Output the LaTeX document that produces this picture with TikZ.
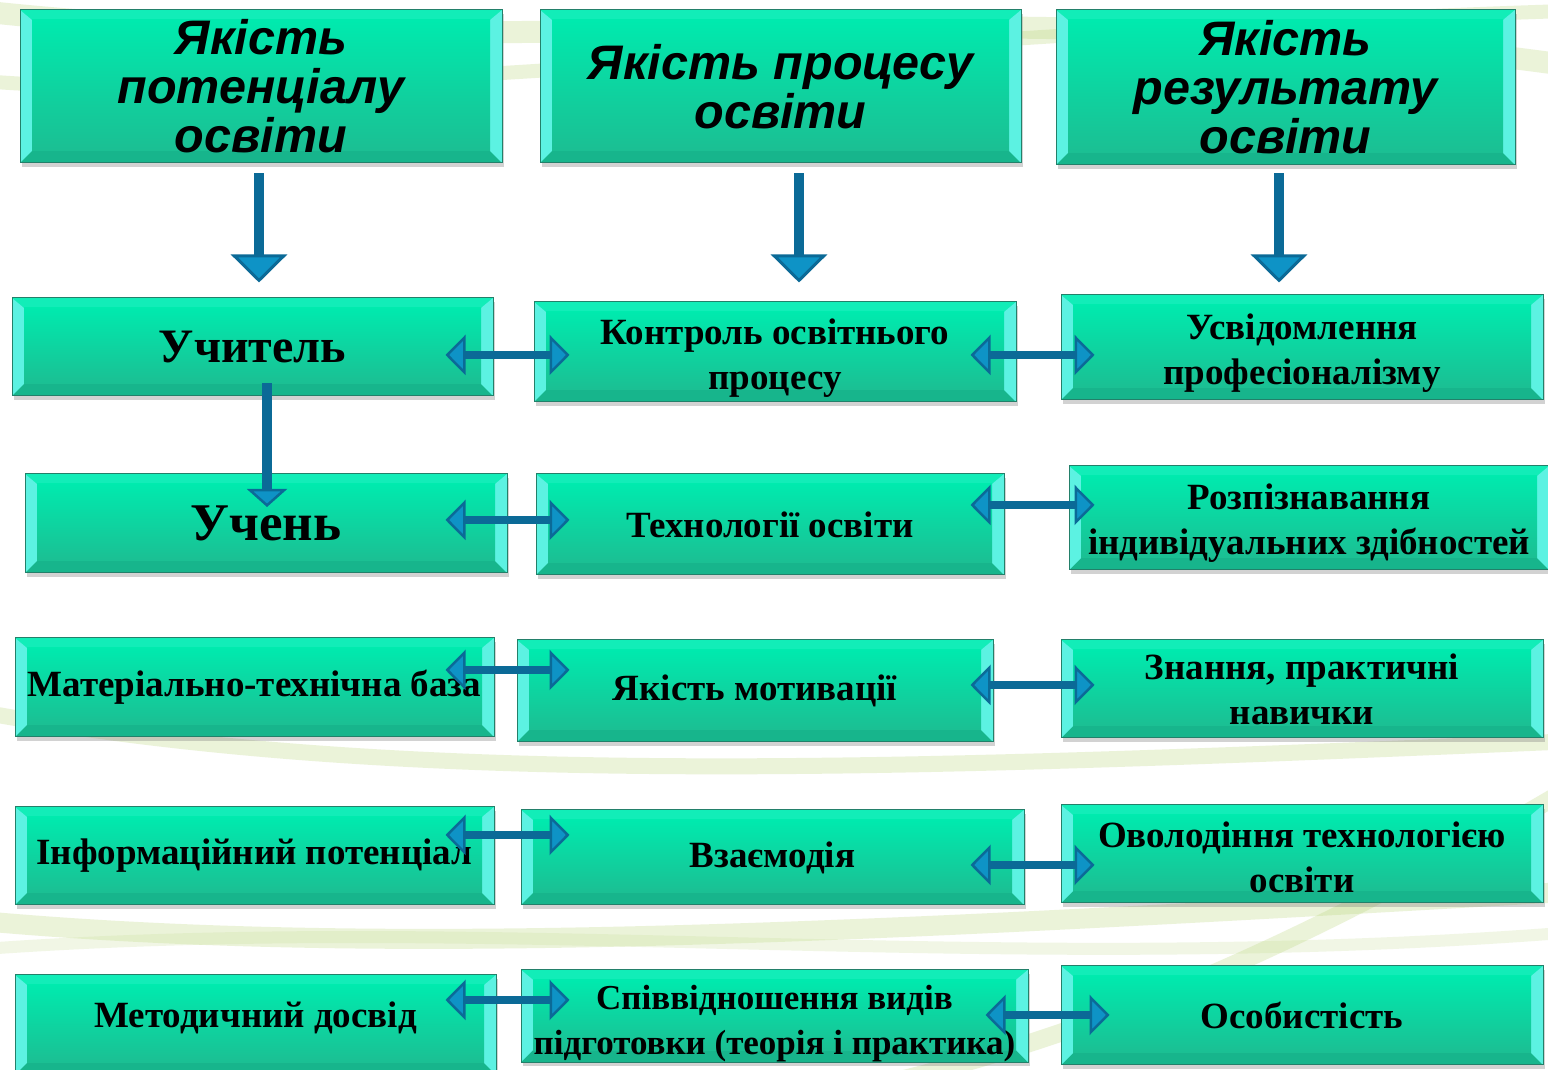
\documentclass[tikz,border=0pt]{standalone}
\usepackage{fontspec}
\setmainfont{Liberation Serif}
\newfontfamily\headfont{Liberation Sans}
\usetikzlibrary{arrows.meta,shadows}
\definecolor{boxtop}{HTML}{00EAAE}
\definecolor{boxbot}{HTML}{1BBF93}
\definecolor{boxedge}{HTML}{23806A}
\definecolor{bevtop}{HTML}{12EDB8}
\definecolor{bevbot}{HTML}{17B58C}
\definecolor{bevside}{HTML}{5CF2E2}
\definecolor{arrdark}{HTML}{0B6A97}
\definecolor{arrlight}{HTML}{0E93C6}
\definecolor{swoosh}{HTML}{B8D67A}
\def\pb{path picture bounding box}
\newcommand\topgap[1]{\rule{0pt}{#1}}
\begin{document}
\begin{tikzpicture}[x=1pt,y=1pt,line join=miter,
	wh/.style 2 args={minimum width=#1,minimum height=#2},
	box/.style={rectangle,draw=boxedge,line width=1pt,top color=boxtop,bottom color=boxbot,
		align=center,inner sep=0pt,
		drop shadow={shadow xshift=2pt,shadow yshift=-4pt,opacity=0.35},
		path picture={
			\fill[bevtop] (\pb.north west) -- (\pb.north east) -- ([shift={(-12,-10)}]\pb.north east) -- ([shift={(12,-10)}]\pb.north west) -- cycle;
			\fill[bevbot] (\pb.south west) -- (\pb.south east) -- ([shift={(-12,12)}]\pb.south east) -- ([shift={(12,12)}]\pb.south west) -- cycle;
			\fill[bevside] (\pb.north west) -- ([shift={(12,-10)}]\pb.north west) -- ([shift={(12,12)}]\pb.south west) -- (\pb.south west) -- cycle;
			\fill[bevside] (\pb.north east) -- ([shift={(-12,-10)}]\pb.north east) -- ([shift={(-12,12)}]\pb.south east) -- (\pb.south east) -- cycle;
			\fill[top color=boxtop,bottom color=boxbot] ([shift={(12,-10)}]\pb.north west) rectangle ([shift={(-12,12)}]\pb.south east);
		}},
	topbox/.style={box,font=\headfont\bfseries\itshape\fontsize{48.5}{49}\selectfont},
	midbox/.style={box,font=\bfseries\fontsize{#1}{45}\selectfont},
	midbox/.default=37,
	downarr/.style={line width=10pt,draw=arrdark,-{Triangle[width=56pt,length=28pt,line width=3pt,fill=arrlight]}},
	dblarr/.style={line width=8pt,draw=arrdark,
		{Triangle[width=40pt,length=20pt,line width=2.5pt,fill=arrlight]}-{Triangle[width=40pt,length=20pt,line width=2.5pt,fill=arrlight]}}
	]
	\useasboundingbox (0,0) rectangle (1548,1070);
	\clip (0,0) rectangle (1548,1070);
	\fill[white] (0,0) rectangle (1548,1070);
	% background swooshes
	\begin{scope}[line cap=round,opacity=0.28]
		\draw[swoosh,line width=22] (-30,1060) .. controls (500,1000) and (1000,1090) .. (1600,1000);
		\draw[swoosh,line width=14] (-30,990) .. controls (300,960) and (900,1040) .. (1600,1060);
		\draw[swoosh,line width=16] (-30,360) .. controls (400,280) and (900,300) .. (1600,330);
		\draw[swoosh,line width=20] (-30,150) .. controls (400,110) and (900,140) .. (1600,180);
		\draw[swoosh!70,line width=12] (-30,120) .. controls (500,160) and (1000,90) .. (1600,140);
		\draw[swoosh,line width=18] (900,-10) .. controls (1100,40) and (1300,120) .. (1600,300);
	\end{scope}
	% top row
	\node[topbox,wh={482}{153}] (A1) at (261,983.5) {Якість\\потенціалу\\освіти};
	\node[topbox,wh={481}{153}] (A2) at (780.5,983.5) {Якість процесу\\освіти};
	\node[topbox,wh={459}{155}] (A3) at (1285.5,982.5) {Якість\\результату\\освіти};
	% rows
	\node[midbox=48,wh={481}{98}] (B1) at (252.5,723) {Учитель};
	\node[midbox,wh={482}{100}] (B2) at (775,718) {\topgap{37.5pt}Контроль освітнього\\процесу};
	\node[midbox,wh={482}{105}] (B3) at (1302,722.5) {\topgap{37.5pt}Усвідомлення\\професіоналізму};
	\node[midbox=53,wh={482}{99}] (C1) at (266,546.5) {Учень};
	\node[midbox,wh={468}{101}] (C2) at (770,545.5) {Технології освіти};
	\node[midbox,wh={480}{104}] (C3) at (1309,552) {\topgap{35.5pt}Розпізнавання\\індивідуальних здібностей};
	\node[midbox,wh={479}{99}] (D1) at (254.5,382.5) {Матеріально-технічна база};
	\node[midbox,wh={476}{102}] (D2) at (755,379) {Якість мотивації};
	\node[midbox,wh={482}{98}] (D3) at (1302,381) {Знання, практичні\\навички};
	\node[midbox,wh={479}{98}] (E1) at (254.5,214) {Інформаційний потенціал};
	\node[midbox,wh={503}{95}] (E2) at (772.5,212.5) {Взаємодія};
	\node[midbox,wh={482}{98}] (E3) at (1302,216) {\topgap{31.5pt}Оволодіння технологією\\освіти};
	\node[midbox,wh={481}{100}] (F1) at (255.5,45) {\raisebox{20pt}{Методичний досвід}};
	\node[midbox=35,wh={507}{92}] (F2) at (774.5,54) {\topgap{40pt}Співвідношення видів\\підготовки (теорія і практика)};
	\node[midbox,wh={482}{99}] (F3) at (1302,54.5) {Особистість};
	% arrows
	\draw[downarr] ([shift={(-2,-10)}]A1.south) -- ([shift={(6.5,15)}]B1.north);
	\draw[downarr] ([shift={(18.5,-10)}]A2.south) -- ([shift={(24,19)}]B2.north);
	\draw[downarr] ([shift={(-6.5,-8)}]A3.south) -- ([shift={(-23,12)}]B3.north);
	\draw[downarr,-{Triangle[width=40pt,length=18pt,line width=2.5pt,fill=arrlight]}] ([shift={(14.5,13)}]B1.south) -- ([shift={(1,-33.5)}]C1.north);
	\foreach \a/\b/\sa/\sb in {B1/B2/{(-48,-8)}/{(36,-3)},C1/C2/{(-62,3.5)}/{(34,4.5)},
		D1/D2/{(-49,17.5)}/{(53,21)},E1/E2/{(-49,21)}/{(49,22.5)},F1/F2/{(-51,25)}/{(49,16)},
		B2/B3/{(-46,-3)}/{(34,-7.5)},C2/C3/{(-34,19.5)}/{(26,13)},D2/D3/{(-23,6)}/{(34,4)},
		E2/E3/{(-54,-7.5)}/{(34,-11)},F2/F3/{(-43,1)}/{(49,0.5)}}
		\draw[dblarr] ([shift={\sa}]\a.east) -- ([shift={\sb}]\b.west);
\end{tikzpicture}
\end{document}
